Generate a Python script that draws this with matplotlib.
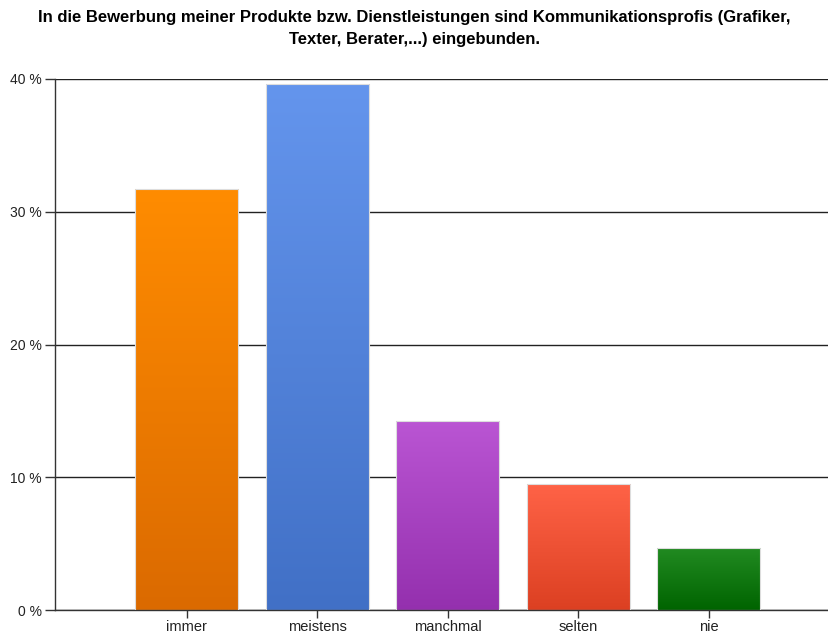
import numpy as np
import matplotlib.pyplot as plt
from matplotlib.colors import LinearSegmentedColormap

plt.rcParams['font.family'] = ['Liberation Sans', 'DejaVu Sans']

# Antworten und Anteile in Prozent
kategorien = ['immer', 'meistens', 'manchmal', 'selten', 'nie']
anteile = [31.7, 39.6, 14.2, 9.5, 4.7]

# Farbverlauf je Balken: oben hell, unten dunkel
farben_oben = ['#FF8C00', '#6495ED', '#BA55D3', '#FF6347', '#228B22']
farben_unten = ['#DB6A00', '#4170C6', '#9430AE', '#DC4022', '#006400']

titel = ('In die Bewerbung meiner Produkte bzw. Dienstleistungen sind Kommunikationsprofis (Grafiker,\n'
         'Texter, Berater,...) eingebunden.')

fig = plt.figure(figsize=(8.29, 6.37), dpi=100)
ax = fig.add_axes([55/829, 1 - 610/637, 1 - 55/829, (610 - 79)/637])

x = np.arange(len(kategorien))
breite = 0.79
balken = ax.bar(x, anteile, width=breite, color='none', edgecolor='#DDDDDD', linewidth=0.8, zorder=3)

for b, oben, unten in zip(balken, farben_oben, farben_unten):
    cmap = LinearSegmentedColormap.from_list('verlauf', [unten, oben])
    verlauf = np.linspace(0, 1, 256).reshape(-1, 1)
    x0, y0 = b.get_x(), b.get_y()
    im = ax.imshow(verlauf, cmap=cmap, origin='lower', aspect='auto',
                   extent=[x0, x0 + b.get_width(), y0, y0 + b.get_height()], zorder=2)
    im.set_clip_path(b)

ax.set_xlim(-1.008, 4.92)
ax.set_ylim(0, 40)

ax.set_yticks([0, 10, 20, 30, 40])
ax.set_yticklabels(['0 %', '10 %', '20 %', '30 %', '40 %'])
ax.set_xticks(x)
ax.set_xticklabels(kategorien)

ax.grid(axis='y', color='#222222', linewidth=1.0, zorder=1)
ax.set_axisbelow(True)
for s in ['top', 'right']:
    ax.spines[s].set_visible(False)
for s in ['left', 'bottom']:
    ax.spines[s].set_color('#333333')
    ax.spines[s].set_linewidth(1.0)

ax.tick_params(axis='y', length=7.5, width=1, color='#333333', labelsize=10, labelcolor='#222222', pad=2)
ax.tick_params(axis='x', length=6, width=1, color='#333333', labelsize=10.5, labelcolor='#222222', pad=1.5)

fig.text(0.5, 0.985, titel, ha='center', va='top', fontsize=12, fontweight='bold',
         linespacing=1.65)

fig.savefig('out.png', dpi=100)
